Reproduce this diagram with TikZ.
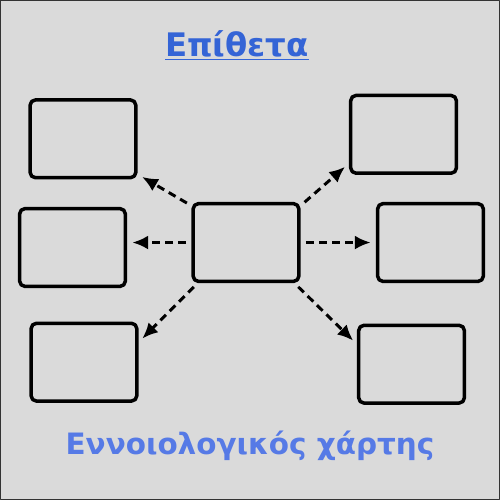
\documentclass[tikz,border=0pt]{standalone}
\usepackage{fontspec}
\setmainfont{DejaVu Sans}
\usepackage{tikz}
\usetikzlibrary{arrows.meta,calc,positioning}
\definecolor{bggray}{RGB}{218,218,218}
\definecolor{titleblue}{RGB}{52,100,214}
\definecolor{mapblue}{RGB}{86,122,230}

\begin{document}
\begin{tikzpicture}[x=0.02cm, y=-0.02cm, line join=round]
   \tikzset{
     wordbox/.style={draw=black, line width=2pt, rounded corners=3pt,
       minimum width=2.12cm, minimum height=1.56cm, inner sep=0pt},
     dasharrow/.style={line width=1.7pt, dash pattern=on 4.5pt off 3pt,
       -{Latex[length=9pt,width=8pt]}, shorten >=3pt, shorten <=3pt}
   }
   % background
   \draw[fill=bggray, draw=black!80, line width=0.8pt] (0,0) rectangle (500,500);
   \useasboundingbox (0,0) rectangle (500,500);

   \node (title) at (237,45) {\fontsize{18.5}{22}\selectfont\bfseries\color{titleblue}\underline{Επίθετα}};
   \node (map) at (250,446) {\fontsize{16.8}{22}\selectfont\bfseries\color{mapblue}Εννοιολογικός χάρτης};

   \begin{scope}[every node/.style={wordbox}]
    \node (adj) at (246,242.5) {};
    \node (tl) at (82.5,138.5) {};
    \node (ml) at (72,247.5) {};
    \node (bl) at (83.5,362.5) {};
    \node (tr) at (404,134) {};
    \node (mr) at (431,242.5) {};
    \node (br) at (412,364.5) {};
   \end{scope}

   \begin{scope}[every path/.style={dasharrow}]
    \draw (adj.146) -- (tl.-33);
    \draw (adj.west) -- (adj.west -| ml.east);
    \draw (adj.220) -- (bl.20);
    \draw (adj.34) -- (tr.208);
    \draw (adj.east) -- (mr.west);
    \draw (adj.-40) -- (br.160);
   \end{scope}
\end{tikzpicture}
\end{document}
